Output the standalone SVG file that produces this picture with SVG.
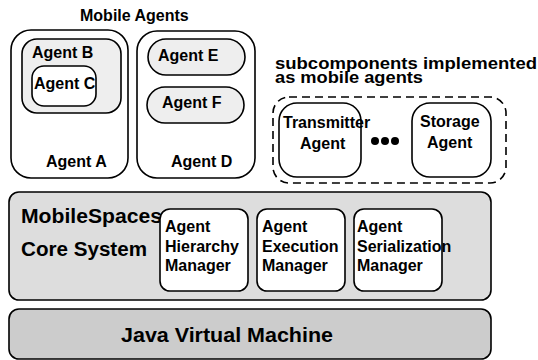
<svg xmlns="http://www.w3.org/2000/svg" width="538" height="360" viewBox="0 0 538 360">
<style>
text{font-family:"Liberation Sans",Arial,sans-serif;font-weight:bold;fill:#000}
.t16{font-size:16px}
.b{stroke:#000;stroke-width:1.6}
.w{fill:#fff}
.g1{fill:#eeeeee}
.g2{fill:#dddddd}
.g3{fill:#cccccc}
.d{fill:none;stroke:#000;stroke-width:1.6;stroke-dasharray:8 5}
</style>
<rect width="538" height="360" fill="#fff"/>
<text x="80" y="21" class="t16">Mobile Agents</text>
<g id="agentA">
<rect class="b w" x="11" y="30" width="117" height="148" rx="20"/>
<text x="46" y="167" class="t16">Agent A</text>
</g>
<g id="agentB">
<rect class="b g1" x="22" y="39" width="99" height="74" rx="15"/>
<text x="32" y="58" class="t16">Agent B</text>
</g>
<g id="agentC">
<rect class="b w" x="32" y="66" width="64" height="40" rx="12"/>
<text x="34" y="89" class="t16">Agent C</text>
</g>
<g id="agentD">
<rect class="b w" x="137" y="31" width="118" height="147" rx="20"/>
<text x="171" y="167" class="t16">Agent D</text>
</g>
<g id="agentE">
<rect class="b g1" x="148" y="39" width="97" height="36" rx="18"/>
<text x="158" y="61" class="t16">Agent E</text>
</g>
<g id="agentF">
<rect class="b g1" x="147" y="87" width="97" height="36" rx="18"/>
<text x="162" y="108" class="t16">Agent F</text>
</g>
<text x="275" y="69" font-size="17" textLength="262" lengthAdjust="spacingAndGlyphs">subcomponents implemented</text>
<text x="275" y="83" font-size="17" textLength="148" lengthAdjust="spacingAndGlyphs">as mobile agents</text>
<g id="subcomponents">
<rect class="d" x="273" y="97" width="233" height="86" rx="16"/>
</g>
<g id="transmitter">
<rect class="b w" x="279" y="103" width="82" height="74" rx="18"/>
<text x="283" y="128" class="t16">Transmitter</text>
<text x="300" y="149" class="t16">Agent</text>
</g>
<g id="dots">
<circle cx="375" cy="141" r="4" fill="#000"/>
<circle cx="385" cy="141" r="4" fill="#000"/>
<circle cx="395" cy="141" r="4" fill="#000"/>
</g>
<g id="storage">
<rect class="b w" x="412" y="103" width="79" height="74" rx="18"/>
<text x="420" y="127" class="t16">Storage</text>
<text x="427" y="148" class="t16">Agent</text>
</g>
<g id="core">
<rect class="b g2" x="9" y="192" width="482" height="108" rx="10"/>
<text x="21" y="223" font-size="20" textLength="141" lengthAdjust="spacingAndGlyphs">MobileSpaces</text>
<text x="21" y="256" font-size="20" textLength="126" lengthAdjust="spacingAndGlyphs">Core System</text>
</g>
<g id="hierarchy">
<rect class="b w" x="160" y="209" width="88" height="82" rx="10"/>
<text x="165" y="232" class="t16">Agent</text>
<text x="165" y="252" class="t16">Hierarchy</text>
<text x="165" y="271" class="t16">Manager</text>
</g>
<g id="execution">
<rect class="b w" x="257" y="209" width="88" height="82" rx="10"/>
<text x="262" y="232" class="t16">Agent</text>
<text x="262" y="252" class="t16">Execution</text>
<text x="262" y="271" class="t16">Manager</text>
</g>
<g id="serialization">
<rect class="b w" x="354" y="209" width="88" height="82" rx="10"/>
<text x="357" y="232" class="t16">Agent</text>
<text x="357" y="252" class="t16">Serialization</text>
<text x="357" y="271" class="t16">Manager</text>
</g>
<g id="jvm">
<rect class="b g3" x="9" y="309" width="482" height="50" rx="10"/>
<text x="121" y="342" font-size="21" textLength="212" lengthAdjust="spacingAndGlyphs">Java Virtual Machine</text>
</g>
<g id="connectors"></g>
</svg>
